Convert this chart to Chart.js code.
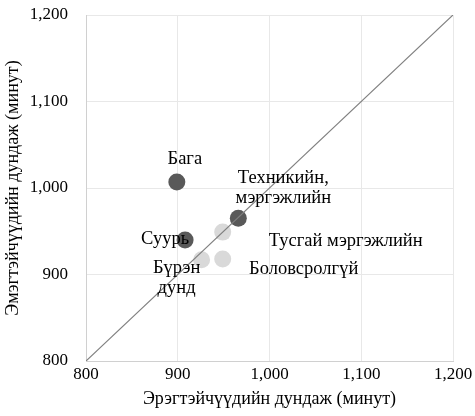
<!DOCTYPE html>
<html>
<head>
<meta charset="utf-8">
<script src="https://cdn.jsdelivr.net/npm/chart.js@4/dist/chart.umd.min.js"></script>
<style>
  body { margin: 0; background: #fff; }
  #wrap { width: 475px; height: 416px; }
</style>
</head>
<body>
<div id="wrap"><canvas id="grafik" width="475" height="416"></canvas></div>
<script>
// өгөгдөл
const groups = ['Бага', 'Техникийн, мэргэжлийн', 'Суурь', 'Тусгай мэргэжлийн', 'Бүрэн дунд', 'Боловсролгүй'];
const menValues = [899, 966, 908, 949, 926, 949];
const womenValues = [1007, 965, 940, 949, 917, 918];
const axisTicks = [800, 900, 1000, 1100, 1200];
const diagonal = [800, 1200];

// хэв маяг
const dark = '#595959';
const light = '#d9d9d9';
const pointColors = [dark, dark, dark, light, light, light];
const labelLines = [['Бага'], ['Техникийн,', 'мэргэжлийн'], ['Суурь'], ['Тусгай мэргэжлийн'], ['Бүрэн', 'дунд'], ['Боловсролгүй']];
const labelOffsets = [[8, -23], [45, -40], [-20, -1], [123, 9], [-25, 8], [81, 10]];
const fontFamily = '"Liberation Serif", "Times New Roman", serif';

const points = groups.map((g, i) => ({ x: menValues[i], y: womenValues[i] }));

const labelPlugin = {
  id: 'labels',
  afterDatasetsDraw(chart) {
    const ctx = chart.ctx;
    const meta = chart.getDatasetMeta(1);
    ctx.save();
    ctx.font = '18.5px ' + fontFamily;
    ctx.fillStyle = '#000';
    ctx.textAlign = 'center';
    ctx.textBaseline = 'middle';
    meta.data.forEach((pt, i) => {
      const [dx, dy] = labelOffsets[i];
      labelLines[i].forEach((line, k) => {
        ctx.fillText(line, pt.x + dx, pt.y + dy + k * 20);
      });
    });
    ctx.restore();
  }
};

const fmt = v => v.toLocaleString('en-US');

new Chart(document.getElementById('grafik'), {
  type: 'scatter',
  data: {
    datasets: [
      {
        type: 'line',
        data: diagonal.map(v => ({ x: v, y: v })),
        borderColor: '#7f7f7f',
        borderWidth: 1.2,
        pointRadius: 0,
        order: 0
      },
      {
        data: points,
        pointBackgroundColor: pointColors,
        pointBorderWidth: 0,
        pointRadius: 8.5,
        order: 1
      }
    ]
  },
  options: {
    responsive: false,
    animation: false,
    layout: { padding: { top: 15, right: 22, left: 0, bottom: 4 } },
    plugins: { legend: { display: false }, tooltip: { enabled: false } },
    scales: {
      x: {
        type: 'linear',
        min: axisTicks[0],
        max: axisTicks[axisTicks.length - 1],
        afterBuildTicks: s => { s.ticks = axisTicks.map(v => ({ value: v })); },
        afterFit: s => { s.height = 51; s.paddingLeft = 0; s.paddingRight = 0; },
        grid: { color: '#e8e8e8', drawTicks: false },
        border: { color: '#d0d0d0' },
        ticks: { color: '#000', font: { family: fontFamily, size: 17 }, padding: 3, maxRotation: 0, callback: fmt },
        title: { display: true, text: 'Эрэгтэйчүүдийн дундаж (минут)', color: '#000', font: { family: fontFamily, size: 18 }, padding: { top: 0, bottom: 2 } }
      },
      y: {
        type: 'linear',
        min: axisTicks[0],
        max: axisTicks[axisTicks.length - 1],
        afterBuildTicks: s => { s.ticks = axisTicks.map(v => ({ value: v })); },
        afterFit: s => { s.width = 86; s.paddingTop = 0; s.paddingBottom = 0; },
        grid: { color: '#e8e8e8', drawTicks: false },
        border: { color: '#d0d0d0' },
        ticks: { color: '#000', font: { family: fontFamily, size: 17 }, padding: 18, callback: fmt },
        title: { display: true, text: 'Эмэгтэйчүүдийн дундаж (минут)', color: '#000', font: { family: fontFamily, size: 18 }, padding: { top: 2, bottom: 0 } }
      }
    }
  },
  plugins: [labelPlugin]
});
</script>
</body>
</html>
